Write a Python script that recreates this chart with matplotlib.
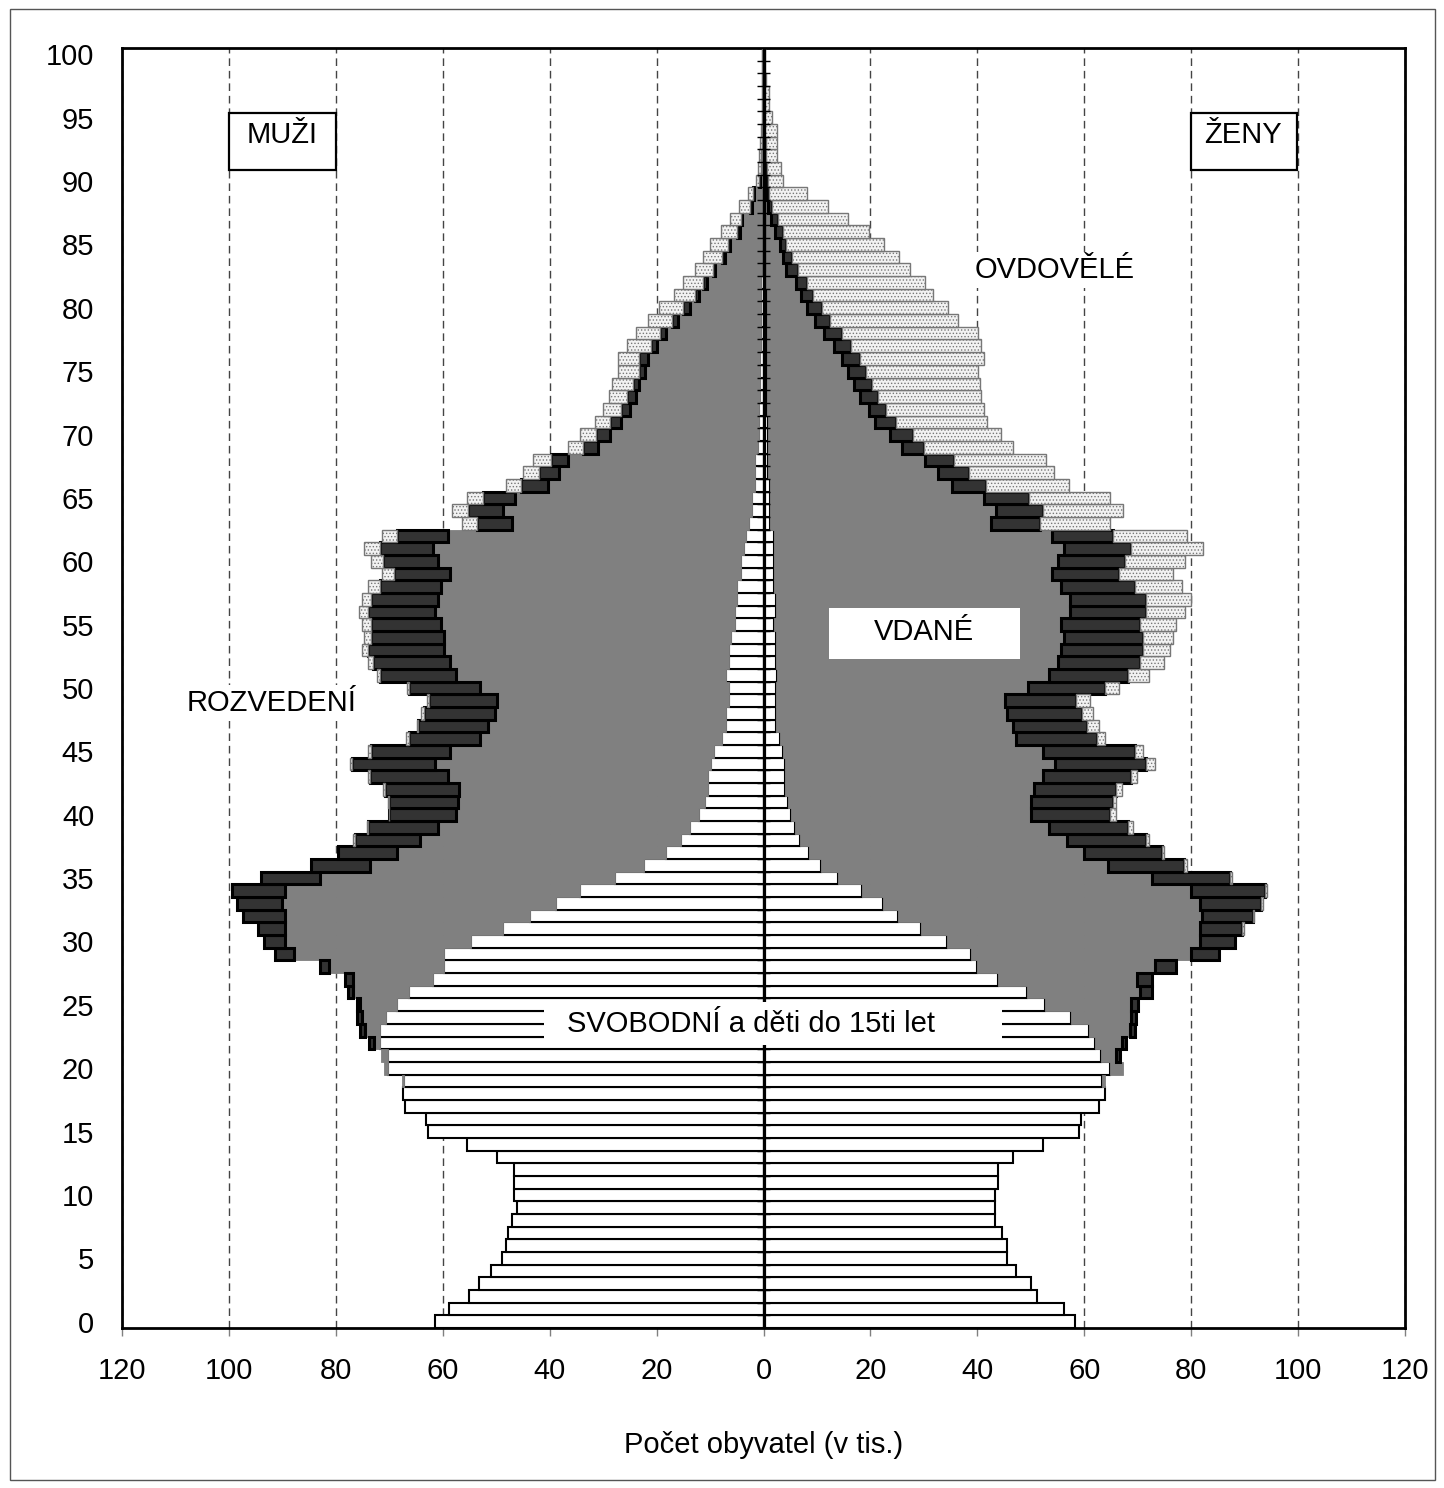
import numpy as np
import matplotlib
matplotlib.use("Agg")
import matplotlib.pyplot as plt
from matplotlib.patches import Rectangle

plt.rcParams['font.family'] = ['Liberation Sans', 'DejaVu Sans']
plt.rcParams['hatch.linewidth'] = 0.6

# age groups 0..100
ages = np.arange(0, 101)

# MUŽI (men), thousands
single_m = [61.5, 58.9, 55.0, 53.2, 50.9, 48.9, 48.2, 47.8, 47.1, 46.1,
            46.6, 46.6, 46.6, 49.8, 55.4, 62.7, 63.1, 67.0, 67.5, 67.3,
            70.2, 70.2, 71.7, 71.7, 70.7, 68.5, 66.3, 61.8, 59.7, 59.7,
            54.7, 48.7, 43.7, 38.8, 34.3, 27.8, 22.3, 18.3, 15.5, 13.8,
            12.1, 11.0, 10.4, 10.4, 9.9, 9.3, 7.7, 7.1, 7.1, 6.5,
            6.5, 7.1, 6.5, 6.5, 6.0, 5.4, 5.4, 4.9, 4.9, 4.3,
            4.3, 3.7, 3.2, 2.7, 2.1, 2.1, 1.6, 1.6, 1.6, 1.0,
            0.9, 0.8, 0.8, 0.7, 0.7, 0.6, 0.6, 0.5, 0.5, 0.5,
            0.4, 0.4, 0.4, 0.3, 0.3, 0.3, 0.3, 0.2, 0.2, 0.2,
            0.1, 0.1, 0.1, 0.1, 0.05, 0.05, 0.05, 0.05, 0.05, 0.05, 0.05]
married_m = [0] * 19 + [
            0.3, 0.7, 1.3, 1.1, 2.9, 4.4, 6.9, 10.4, 15.0, 21.5, 28.2,
            34.9, 40.9, 45.9, 51.3, 55.2, 55.1, 51.3, 50.3, 48.8, 47.0,
            45.4, 46.1, 46.5, 48.7, 51.5, 49.3, 45.4, 44.4, 43.1, 43.3,
            46.5, 50.4, 52.1, 53.3, 53.8, 54.9, 56.0, 55.9, 55.4, 54.3,
            56.5, 58.2, 55.9, 44.3, 46.6, 44.4, 38.7, 36.6, 34.9, 29.9,
            27.9, 25.8, 24.2, 23.1, 22.6, 21.5, 21.0, 19.4, 17.7, 15.5,
            13.4, 11.7, 10.1, 8.7, 6.9, 5.9, 4.1, 3.8, 2.0, 1.5,
            0.6, 0.4, 0.3, 0.2, 0.15, 0.1, 0.05, 0.05, 0.05, 0.05, 0.05]
divorced_m = [0] * 22 + [
            1.0, 0.8, 1.0, 0.6, 1.0, 1.4, 1.8, 3.5,
            3.9, 5.0, 7.8, 8.4, 10.0, 11.1, 11.1, 11.0, 12.1, 13.2,
            12.5, 13.0, 13.9, 14.5, 15.5, 14.9, 13.3, 13.2, 13.4, 12.7,
            13.4, 14.3, 14.4, 14.2, 13.7, 13.2, 12.6, 12.7, 11.4, 10.5,
            10.4, 9.8, 9.4, 6.6, 6.6, 6.0, 5.0, 3.8, 3.3, 2.8,
            2.6, 2.2, 1.6, 1.7, 1.1, 1.2, 1.7, 1.1, 1.2, 1.2,
            1.3, 0.8, 0.8, 0.5, 0.6, 0.4, 0.5, 0.3, 0.4, 0.2,
            0.05, 0, 0, 0, 0, 0, 0, 0, 0, 0, 0]
widowed_m = [0] * 38 + [
            0.3, 0.1, 0.1, 0.1, 0.4, 0.4, 0.4, 0.5, 0.4, 0.2, 0.4, 0.4,
            0.3, 0.5, 1.0, 1.1, 1.2, 1.6, 1.6, 1.6, 2.3, 2.2,
            2.3, 3.0, 2.8, 2.8, 2.9, 3.0, 2.9, 2.9, 3.4, 2.8,
            3.0, 2.8, 3.4, 3.4, 3.9, 3.9, 3.9, 4.5, 4.5, 4.4,
            4.4, 3.8, 3.7, 3.3, 3.5, 3.5, 3.0, 1.9, 2.0, 1.0,
            0.6, 0.5, 0.4, 0.3, 0.25, 0.2, 0.1, 0.1, 0.1, 0.1, 0.1]

# ŽENY (women), thousands
single_f = [58.3, 56.2, 51.2, 50.0, 47.3, 45.6, 45.6, 44.6, 43.3, 43.3,
            43.3, 43.9, 43.9, 46.7, 52.3, 59.0, 59.3, 62.8, 63.8, 63.3,
            64.8, 63.1, 62.1, 60.9, 57.6, 52.6, 49.3, 43.8, 39.9, 38.8,
            34.4, 29.4, 25.1, 22.3, 18.4, 14.0, 10.7, 8.5, 6.8, 5.8,
            5.2, 4.6, 4.1, 4.0, 4.0, 3.6, 3.0, 2.4, 2.4, 2.4,
            2.4, 2.5, 2.4, 2.4, 2.4, 1.9, 2.4, 2.4, 1.9, 1.9,
            1.9, 1.9, 1.9, 1.3, 1.3, 1.3, 1.3, 0.8, 0.8, 0.8,
            0.8, 0.8, 0.7, 0.7, 0.7, 0.7, 0.7, 0.7, 0.6, 0.6,
            0.6, 0.6, 0.5, 0.5, 0.5, 0.5, 0.4, 0.4, 0.4, 0.4,
            0.3, 0.3, 0.3, 0.3, 0.2, 0.2, 0.2, 0.2, 0.1, 0.1, 0.1]
married_f = [0] * 19 + [
            0.5, 2.4, 2.9, 5.0, 7.7, 11.2, 16.2, 21.1, 26.1, 33.3, 41.1,
            47.2, 52.2, 57.0, 59.3, 61.5, 58.6, 53.7, 51.5, 49.9, 47.6,
            44.9, 45.5, 46.5, 48.3, 50.5, 48.7, 44.3, 44.3, 43.2, 42.7,
            47.1, 50.9, 52.7, 53.2, 53.8, 53.7, 54.9, 54.9, 53.7, 52.1,
            53.2, 54.3, 52.1, 41.2, 42.2, 40.0, 33.9, 31.8, 29.4, 25.1,
            22.9, 20.1, 19.0, 17.4, 16.3, 15.1, 14.0, 12.4, 10.8, 9.1,
            7.6, 6.4, 5.5, 3.7, 3.2, 2.6, 1.7, 1.0, 0.4, 0.1,
            0.3, 0.2, 0.1, 0.1, 0.1, 0.05, 0, 0, 0, 0, 0]
divorced_f = [0] * 21 + [
            0.75, 0.8, 0.8, 0.8, 1.2, 2.3, 2.8, 4.0, 5.4,
            6.6, 7.9, 9.4, 11.5, 13.9, 14.6, 14.3, 14.5, 14.9, 14.8,
            14.8, 15.3, 15.4, 16.5, 17.1, 17.1, 15.0, 13.9, 13.9, 13.3,
            14.4, 14.8, 15.4, 15.4, 14.8, 14.9, 14.3, 14.3, 13.8, 12.5,
            12.5, 12.6, 11.4, 9.2, 8.7, 8.3, 6.4, 5.9, 5.5, 4.2,
            4.3, 3.8, 3.3, 3.3, 3.3, 3.3, 3.4, 3.3, 3.3, 2.8,
            2.7, 2.2, 2.2, 2.2, 1.7, 1.1, 1.5, 1.3, 0.8, 0.6,
            0.2, 0.1, 0.1, 0, 0, 0, 0, 0, 0, 0, 0]
widowed_f = [0] * 31 + [
            0.4, 0.2, 0.4, 0.4, 0.4, 0.5, 0.4, 0.5, 1.0,
            1.1, 0.5, 1.0, 1.0, 1.6, 1.6, 1.5, 2.2, 2.2, 2.7,
            2.6, 3.9, 4.4, 5.1, 5.6, 6.7, 7.3, 8.3, 8.8, 10.1,
            11.3, 13.4, 13.8, 13.2, 15.0, 15.3, 15.6, 15.9, 17.1, 16.6,
            16.5, 17.1, 18.2, 19.3, 20.2, 21.1, 23.1, 24.3, 25.5, 23.8,
            23.7, 22.6, 22.0, 21.0, 19.9, 18.3, 16.1, 13.2, 10.4, 7.1,
            2.9, 2.6, 2.1, 2.2, 2.3, 1.35, 0.8, 0.8, 0.3, 0.2, 0.2]

xticks = np.arange(-120, 121, 20)
yticks = np.arange(0, 101, 5)

styles = [
    dict(facecolor='white', edgecolor='black', linewidth=1.5),             # svobodní
    dict(facecolor='#808080', edgecolor='#808080', linewidth=0.6),         # ženatí / vdané
    dict(facecolor='#333333', edgecolor='black', linewidth=2.2),           # rozvedení
    dict(facecolor='#f2f2f2', edgecolor='#777777', linewidth=1.0,
         hatch='.....'),                                                    # ovdovělí
]


def draw_side(ax, sign, series):
    left = np.zeros(len(ages))
    for vals, st in zip(series, styles):
        vals = np.asarray(vals, dtype=float)
        m = vals > 0
        ax.barh(ages[m], sign * vals[m], left=sign * left[m], height=1.0,
                zorder=3, **st)
        left += vals


fig = plt.figure(figsize=(14.44, 14.88), dpi=100)
ax = fig.add_axes([122 / 1444, 1 - 1328 / 1488, (1405 - 122) / 1444, (1328 - 48) / 1488])

draw_side(ax, -1, [single_m, married_m, divorced_m, widowed_m])
draw_side(ax, 1, [single_f, married_f, divorced_f, widowed_f])

ax.set_xlim(-120, 120)
ax.set_ylim(-0.5, 100.5)

fs = 21
ax.set_xticks(xticks)
ax.set_xticklabels([str(abs(v)) for v in xticks], fontsize=fs)
ax.set_yticks(yticks)
ax.set_yticklabels([str(v) for v in yticks], fontsize=fs)
ax.tick_params(axis='x', direction='out', length=6, width=1, color='#808080', pad=15)
ax.tick_params(axis='y', length=0, pad=20)

ax.set_axisbelow(True)
ax.grid(axis='x', linestyle=(0, (5.5, 3.5)), color='#444444', linewidth=1, zorder=0)
for s in ax.spines.values():
    s.set_linewidth(2)
    s.set_color('black')

# vertical axis at zero with tick marks between categories
ax.axvline(0, color='black', linewidth=2.3, zorder=6)
ax.hlines(np.arange(-0.5, 101, 1), -1.3, 1.3, colors='black', linewidth=1, zorder=6)

ax.add_patch(Rectangle((-100, 90.9), 20, 4.5, facecolor='white', edgecolor='black',
                       linewidth=1.6, zorder=7))
ax.text(-90, 93.6, 'MUŽI', ha='center', va='center', fontsize=fs, zorder=8)
ax.add_patch(Rectangle((80, 90.9), 19.8, 4.5, facecolor='white', edgecolor='black',
                       linewidth=1.6, zorder=7))
ax.text(89.7, 93.6, 'ŽENY', ha='center', va='center', fontsize=fs, zorder=8)

ax.text(54.4, 83.0, 'OVDOVĚLÉ', ha='center', va='center', fontsize=fs, zorder=8,
        bbox=dict(facecolor='white', edgecolor='none', pad=3))
ax.text(-92.1, 48.8, 'ROZVEDENÍ', ha='center', va='center', fontsize=fs, zorder=8,
        bbox=dict(facecolor='white', edgecolor='none', pad=3))

ax.add_patch(Rectangle((12.3, 52.3), 35.6, 4.0, facecolor='white', edgecolor='none', zorder=7))
ax.text(30.1, 54.4, 'VDANÉ', ha='center', va='center', fontsize=fs, zorder=8)

ax.add_patch(Rectangle((-41.0, 21.8), 85.7, 3.4, facecolor='white', edgecolor='none', zorder=7))
ax.text(-2.4, 23.5, 'SVOBODNÍ a děti do 15ti let', ha='center', va='center',
        fontsize=fs, zorder=8)

fig.text(764 / 1444, 1 - 1445 / 1488, 'Počet obyvatel (v tis.)', ha='center', va='center',
         fontsize=fs)

# outer frame of the picture
fig.patches.append(Rectangle((10 / 1444, 1 - 1480 / 1488), 1425 / 1444, 1471 / 1488,
                             transform=fig.transFigure, fill=False, edgecolor='#555555',
                             linewidth=1))

fig.savefig('out.png', dpi=100)
